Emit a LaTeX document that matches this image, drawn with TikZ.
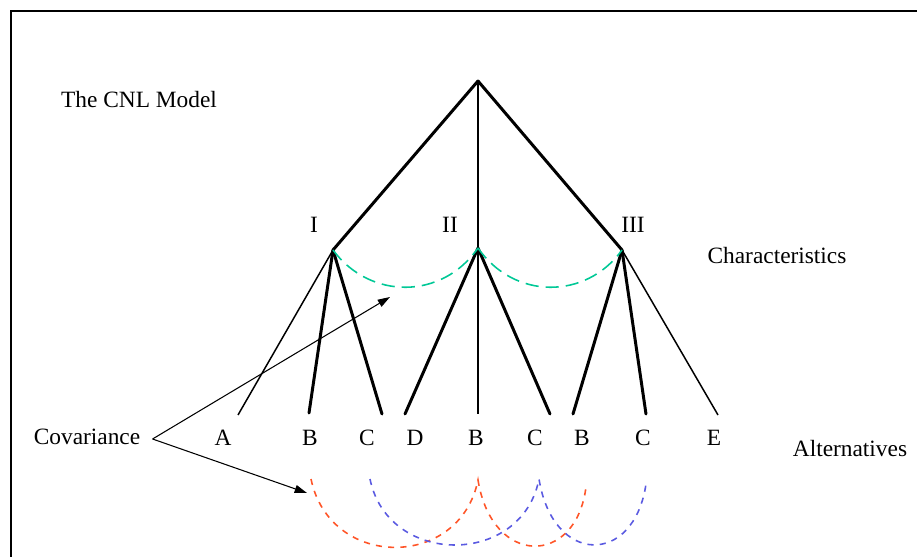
\documentclass[tikz,border=0pt]{standalone}
\usepackage{fontspec}
\setmainfont{Liberation Serif}
\usepackage{xcolor}
\definecolor{covgreen}{RGB}{0,200,150}
\definecolor{covred}{RGB}{255,85,40}
\definecolor{covblue}{RGB}{90,90,225}
\usetikzlibrary{arrows.meta}

\begin{document}
\begin{tikzpicture}[x=0.02cm, y=-0.02cm,
    lbl/.style={font=\fontsize{13.3}{16}\selectfont, inner sep=0pt},
    nest/.style={line width=1.7pt, line cap=round},
    nestmid/.style={line width=1.5pt},
    nestthin/.style={line width=0.85pt},
    arr/.style={-{Triangle[length=7pt,width=4.5pt]}, line width=0.6pt},
    nestcov/.style={covgreen, line width=0.9pt, dash pattern=on 7.5pt off 4pt},
    altcov/.style={line width=0.9pt, dash pattern=on 3.5pt off 3.5pt},
  ]
    \useasboundingbox (0,0) rectangle (917,557);
    \draw[line width=1.4pt] (11,557) -- (11,11) -- (917,11);

    % junctions
    \coordinate (root) at (478,81);
    \coordinate (nI)   at (333,250);
    \coordinate (nII)  at (478,248);
    \coordinate (nIII) at (622,250);

    % ends of the branches
    \coordinate (eA)  at (238,415);
    \coordinate (eB1) at (309,413);
    \coordinate (eC1) at (382,414);
    \coordinate (eD)  at (405,414);
    \coordinate (eB2) at (478,414);
    \coordinate (eC2) at (550,414);
    \coordinate (eB3) at (573,414);
    \coordinate (eC3) at (646,414);
    \coordinate (eE)  at (718,415);

    \node[lbl] (title) at (139,100) {The CNL Model};
    \node[lbl] (labI)   at (314,225) {I};
    \node[lbl] (labII)  at (450,225) {II};
    \node[lbl] (labIII) at (633,225) {III};
    \node[lbl] (chars) at (777,256) {Characteristics};
    \node[lbl] (cov)   at (87,437)  {Covariance};
    \node[lbl] (alts)  at (850,449) {Alternatives};

    \node[lbl] (lA)  at (223,438) {A};
    \node[lbl] (lB1) at (310,438) {B};
    \node[lbl] (lC1) at (367,438) {C};
    \node[lbl] (lD)  at (415,438) {D};
    \node[lbl] (lB2) at (476,438) {B};
    \node[lbl] (lC2) at (535,438) {C};
    \node[lbl] (lB3) at (582,438) {B};
    \node[lbl] (lC3) at (643,438) {C};
    \node[lbl] (lE)  at (714,438) {E};

    \draw[nest] (root) -- (nI);
    \draw[nestmid] (root) -- (nII);
    \draw[nest] (root) -- (nIII);

    \draw[nestthin] (nI) -- (eA);
    \draw[nest] (nI) -- (eB1);
    \draw[nest] (nI) -- (eC1);
    \draw[nest] (nII) -- (eD);
    \draw[nestmid] (nII) -- (eB2);
    \draw[nest] (nII) -- (eC2);
    \draw[nest] (nIII) -- (eB3);
    \draw[nest] (nIII) -- (eC3);
    \draw[nestthin] (nIII) -- (eE);

    % covariance between nests
    \draw[nestcov] (nI) .. controls (370,300) and (442,300) .. (nII);
    \draw[nestcov] (nII) .. controls (514,300) and (586,300) .. (nIII);

    % covariance between alternatives
    \coordinate (rB1) at (311,479);
    \coordinate (rB2) at (478,480);
    \coordinate (rB3) at (586,487);
    \coordinate (bC1) at (370,479);
    \coordinate (bC2) at (539,479);
    \coordinate (bC3) at (646,484);
    \draw[altcov, covred] (rB1) .. controls (330,570) and (460,570) .. (rB2)
                                .. controls (492,567) and (576,567) .. (rB3);
    \draw[altcov, covblue] (bC1) .. controls (388,567) and (522,567) .. (bC2)
                                 .. controls (553,566) and (634,566) .. (bC3);

    \coordinate (tipN) at (390,297);
    \coordinate (tipA) at (307,493);
    \draw[arr] (cov.east) ++(12,2) coordinate (covsrc) -- (tipN);
    \draw[arr] (covsrc) -- (tipA);
\end{tikzpicture}
\end{document}
